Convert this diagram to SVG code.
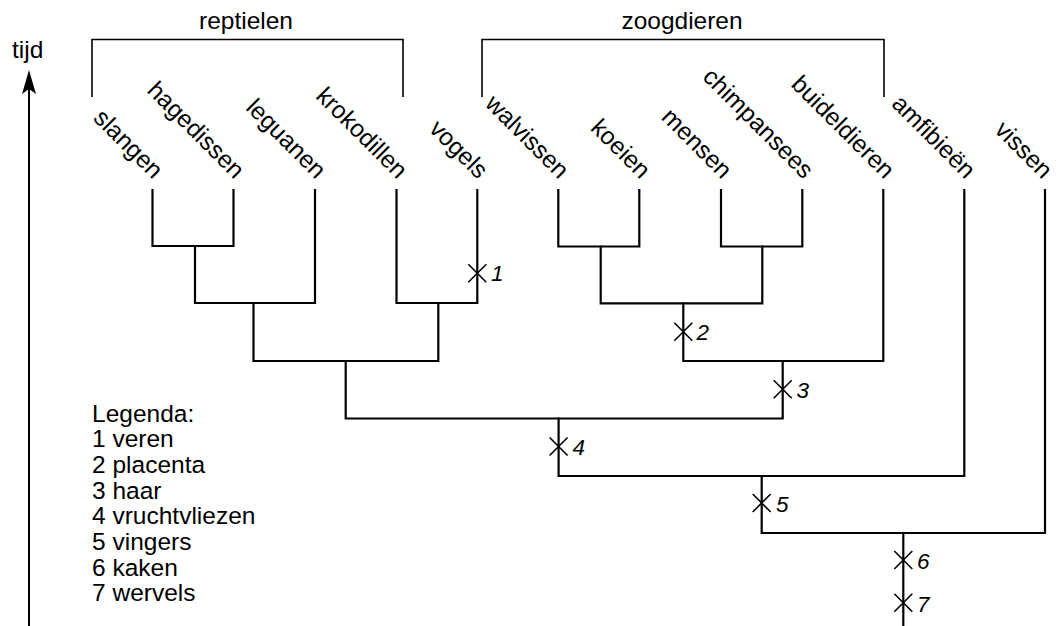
<svg xmlns="http://www.w3.org/2000/svg" width="1059" height="626" viewBox="0 0 1059 626">
<style>
text{font-family:"Liberation Sans",Arial,sans-serif;fill:#000}
.lbl{font-size:24.5px}
.leaf{font-size:24.5px;text-anchor:end}
.num{font-size:22.5px;font-style:italic}
.tree{fill:none;stroke:#000;stroke-width:2.2;stroke-linecap:square;stroke-linejoin:miter}
.br{fill:none;stroke:#000;stroke-width:1.6}
.x{stroke:#000;stroke-width:1.6}
</style>
<rect width="1059" height="626" fill="#fff"/>
<g id="axis">
<line x1="29" y1="626" x2="29" y2="88" stroke="#000" stroke-width="2"/>
<path d="M29,70 L36,94 L29,89 L22,94 Z" fill="#000"/>
<text class="lbl" x="12" y="58">tijd</text>
</g>
<g id="reptielen">
<path class="br" d="M92,97 V39.5 H403 V97"/>
<text class="lbl" x="246" y="29" text-anchor="middle">reptielen</text>
</g>
<g id="zoogdieren">
<path class="br" d="M482,97 V39.5 H884 V97"/>
<text class="lbl" x="682" y="29" text-anchor="middle">zoogdieren</text>
</g>
<g id="leaves">
<text class="leaf" transform="translate(153,180) rotate(45)">slangen</text>
<text class="leaf" transform="translate(234.5,180) rotate(45)">hagedissen</text>
<text class="leaf" transform="translate(316,180) rotate(45)">leguanen</text>
<text class="leaf" transform="translate(397.5,180) rotate(45)">krokodillen</text>
<text class="leaf" transform="translate(478,180) rotate(45)">vogels</text>
<text class="leaf" transform="translate(559,180) rotate(45)">walvissen</text>
<text class="leaf" transform="translate(640.5,180) rotate(45)">koeien</text>
<text class="leaf" transform="translate(722,180) rotate(45)">mensen</text>
<text class="leaf" transform="translate(803.5,180) rotate(45)">chimpansees</text>
<text class="leaf" transform="translate(884.5,180) rotate(45)">buideldieren</text>
<text class="leaf" transform="translate(965.5,180) rotate(45)">amfibieën</text>
<text class="leaf" transform="translate(1042.5,180) rotate(45)">vissen</text>
</g>
<g id="connectors">
<path class="tree" d="M152.5,190 V246 H233.5 V190"/>
<path class="tree" d="M195,246 V303 H315 V190"/>
<path class="tree" d="M396.5,190 V303 H477.3 V190"/>
<path class="tree" d="M253.5,303 V361 H438.3 V303"/>
<path class="tree" d="M558.3,190 V246.5 H639.3 V190"/>
<path class="tree" d="M721,190 V246.5 H802.3 V190"/>
<path class="tree" d="M600.7,246.5 V303.3 H762.3 V246.5"/>
<path class="tree" d="M683.3,303.3 V361 H883.3 V190"/>
<path class="tree" d="M345.7,361 V418.5 H782.7 V361"/>
<path class="tree" d="M558.6,418.5 V476 H964.3 V190"/>
<path class="tree" d="M761.7,476 V533 H1045 V190"/>
<path class="tree" d="M903.3,533 V626"/>
</g>
<g id="mark1"><path class="x" d="M468.3,264.3 L486.3,282.3 M486.3,264.3 L468.3,282.3"/><text class="num" x="491" y="281">1</text></g>
<g id="mark2"><path class="x" d="M674.3,322.7 L692.3,340.7 M692.3,322.7 L674.3,340.7"/><text class="num" x="696.5" y="339.5">2</text></g>
<g id="mark3"><path class="x" d="M773.7,380.3 L791.7,398.3 M791.7,380.3 L773.7,398.3"/><text class="num" x="796.5" y="397.5">3</text></g>
<g id="mark4"><path class="x" d="M549.6,437.5 L567.6,455.5 M567.6,437.5 L549.6,455.5"/><text class="num" x="572.5" y="454.5">4</text></g>
<g id="mark5"><path class="x" d="M752.7,494 L770.7,512 M770.7,494 L752.7,512"/><text class="num" x="776" y="512">5</text></g>
<g id="mark6"><path class="x" d="M894.3,551 L912.3,569 M912.3,551 L894.3,569"/><text class="num" x="917" y="569">6</text></g>
<g id="mark7"><path class="x" d="M894.3,593.7 L912.3,611.7 M912.3,593.7 L894.3,611.7"/><text class="num" x="917" y="611.5">7</text></g>
<g id="legend" class="lbl">
<text x="92" y="421.5">Legenda:</text>
<text x="92" y="447.2">1 veren</text>
<text x="92" y="472.9">2 placenta</text>
<text x="92" y="498.6">3 haar</text>
<text x="92" y="524.3">4 vruchtvliezen</text>
<text x="92" y="550">5 vingers</text>
<text x="92" y="575.7">6 kaken</text>
<text x="92" y="601.4">7 wervels</text>
</g>
</svg>
